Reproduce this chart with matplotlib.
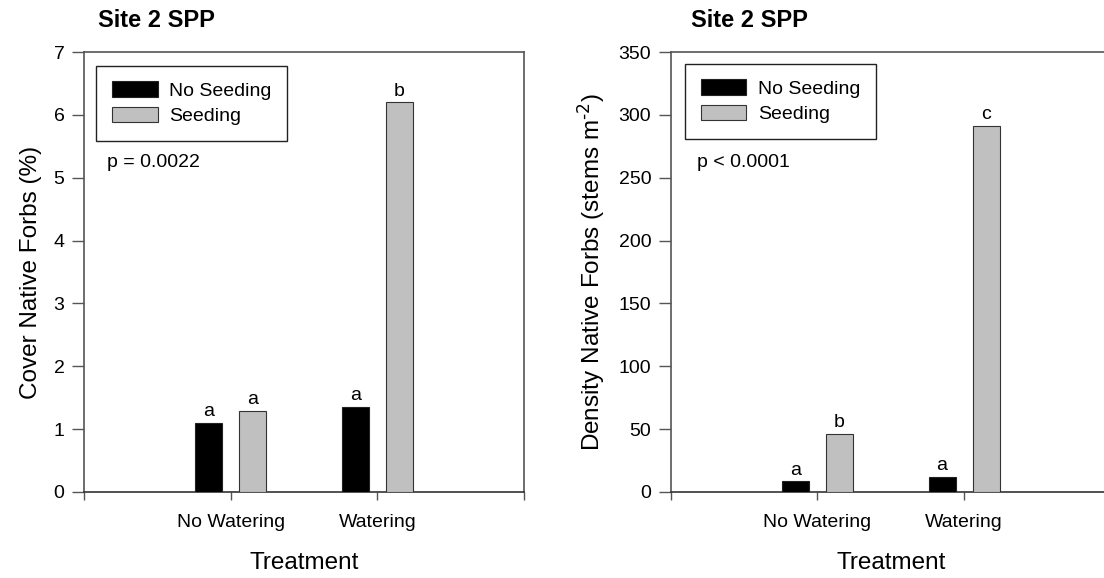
import numpy as np
import matplotlib

matplotlib.use("Agg")
import matplotlib.pyplot as plt

plt.rcParams["font.family"] = ["Liberation Sans", "DejaVu Sans"]
plt.rcParams["mathtext.default"] = "regular"

# Site 2 SPP — native forb response to watering x seeding
treatments = ["No Watering", "Watering"]
groups = ["No Seeding", "Seeding"]

cover_no_seed = [1.1, 1.35]
cover_seed = [1.29, 6.2]
cover_letters_no_seed = ["a", "a"]
cover_letters_seed = ["a", "b"]

density_no_seed = [8.5, 12.0]
density_seed = [46.0, 291.0]
density_letters_no_seed = ["a", "a"]
density_letters_seed = ["b", "c"]

p_cover = "p = 0.0022"
p_density = "p < 0.0001"

colors = ["black", "#c0c0c0"]
spine_col = "#555555"
FS = 14


def draw_panel(ax, no_seed, seed, letters_ns, letters_s, ymax, ystep, ylabel, ptext,
               leg_xy, title_x, p_xy):
    x = np.arange(1, len(treatments) + 1)
    off = 0.15
    w = 0.184
    b1 = ax.bar(x - off, no_seed, w, color=colors[0], edgecolor="#222222",
                linewidth=0.8, label=groups[0], zorder=3)
    b2 = ax.bar(x + off, seed, w, color=colors[1], edgecolor="#333333",
                linewidth=0.8, label=groups[1], zorder=3)
    for bars, letters in ((b1, letters_ns), (b2, letters_s)):
        for rect, lab in zip(bars, letters):
            ax.annotate(lab, (rect.get_x() + rect.get_width() / 2, rect.get_height()),
                        xytext=(0, 2), textcoords="offset points",
                        ha="center", va="bottom", fontsize=FS)

    ax.set_xlim(0, 3)
    ax.set_ylim(0, ymax)
    ax.set_yticks(np.arange(0, ymax + ystep / 2, ystep))
    ax.set_xticks([0, 1, 2, 3])
    ax.set_xticklabels(["", treatments[0], treatments[1], ""], fontsize=FS)
    ax.tick_params(axis="y", labelsize=FS, length=9, width=1, color=spine_col, pad=5)
    ax.tick_params(axis="x", length=6, width=1, color=spine_col, pad=10)
    for s in ax.spines.values():
        s.set_color(spine_col)
        s.set_linewidth(1.2)
    ax.spines["bottom"].set_color("#333333")

    ax.set_xlabel("Treatment", fontsize=FS + 3.5, labelpad=15)
    ax.set_ylabel(ylabel, fontsize=FS + 3.5, labelpad=8)
    ax.set_title("Site 2 SPP", fontsize=FS + 3, fontweight="bold", loc="left",
                 x=title_x, pad=18)
    ax.text(p_xy[0], p_xy[1], ptext, transform=ax.transAxes, fontsize=FS,
            ha="left", va="center")

    leg = ax.legend(loc="upper left", bbox_to_anchor=leg_xy, fontsize=FS,
                    fancybox=False, framealpha=1, edgecolor="#222222",
                    handlelength=2.35, handleheight=0.85, borderpad=0.8,
                    labelspacing=0.35, handletextpad=0.59, borderaxespad=0)
    leg.get_frame().set_linewidth(1.0)


fig = plt.figure(figsize=(11.04, 5.78), dpi=100)

ax1 = fig.add_axes([0.0761, 0.1488, 0.3986, 0.7612])
draw_panel(ax1, cover_no_seed, cover_seed, cover_letters_no_seed, cover_letters_seed,
           7, 1, "Cover Native Forbs (%)", p_cover,
           leg_xy=(0.028, 0.969), title_x=0.032, p_xy=(0.052, 0.748))

# right panel runs off the figure edge
ax2 = fig.add_axes([0.6075, 0.1488, 0.3986, 0.7612])
draw_panel(ax2, density_no_seed, density_seed, density_letters_no_seed,
           density_letters_seed, 350, 50,
           "Density Native Forbs (stems m$^{\\text{-2}}$)", p_density,
           leg_xy=(0.0325, 0.973), title_x=0.046, p_xy=(0.06, 0.748))

fig.savefig("out.png", dpi=100)
